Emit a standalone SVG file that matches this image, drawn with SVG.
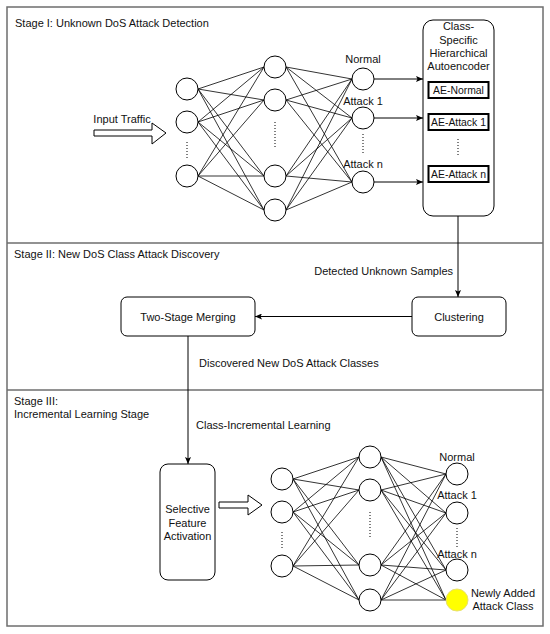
<svg xmlns="http://www.w3.org/2000/svg" width="550" height="634" viewBox="0 0 550 634">
<defs>
<marker id="arr" markerWidth="7" markerHeight="6" refX="7" refY="3" orient="auto" markerUnits="userSpaceOnUse">
<path d="M0,0 L7,3 L0,6 L1.5,3 z" fill="#000"/>
</marker>
<style>
text{font-family:"Liberation Sans",Arial,sans-serif;font-size:11px;fill:#111}
.c{text-anchor:middle}
.s{font-size:10.4px}
.n{fill:#fff;stroke:#000;stroke-width:1}
.e{stroke:#000;stroke-width:0.8;fill:none}
.frame{fill:none;stroke:#6e6e6e;stroke-width:1.5}
.box{fill:#fff;stroke:#000;stroke-width:1}
.ae{fill:#fff;stroke:#000;stroke-width:2}
.dot{stroke:#000;stroke-width:1;stroke-dasharray:1 2;fill:none}
.flow{stroke:#000;stroke-width:1;fill:none;marker-end:url(#arr)}
.big{fill:#fff;stroke:#000;stroke-width:1}
</style>
</defs>
<rect width="550" height="634" fill="#fff"/>
<g id="frame">
<rect class="frame" x="7" y="7" width="536" height="619"/>
<line class="frame" x1="7" y1="243" x2="543" y2="243"/>
<line class="frame" x1="7" y1="390" x2="543" y2="390"/>
</g>
<g id="stage-labels">
<text x="15" y="27">Stage I: Unknown DoS Attack Detection</text>
<text x="14" y="258">Stage II: New DoS Class Attack Discovery</text>
<text x="14" y="405">Stage III:</text>
<text x="14" y="418">Incremental Learning Stage</text>
</g>
<g id="connectors">
<path class="e" d="M198,89L264,67M198,89L264,100M198,89L264,176M198,89L264,210
M198,122L264,67M198,122L264,100M198,122L264,176M198,122L264,210
M198,176L264,67M198,176L264,100M198,176L264,176M198,176L264,210"/>
<path class="e" d="M286,67L352,79M286,67L352,118M286,67L352,182
M286,100L352,79M286,100L352,118M286,100L352,182
M286,176L352,79M286,176L352,118M286,176L352,182
M286,210L352,79M286,210L352,118M286,210L352,182"/>
<path class="e" d="M293,479L359,457M293,479L359,490M293,479L359,565M293,479L359,600
M293,512L359,457M293,512L359,490M293,512L359,565M293,512L359,600
M293,566L359,457M293,566L359,490M293,566L359,565M293,566L359,600"/>
<path class="e" d="M381,457L446,474M381,457L446,513M381,457L446,570M381,457L446,600
M381,490L446,474M381,490L446,513M381,490L446,570M381,490L446,600
M381,565L446,474M381,565L446,513M381,565L446,570M381,565L446,600
M381,600L446,474M381,600L446,513M381,600L446,570M381,600L446,600"/>
<line class="flow" x1="374" y1="79" x2="423" y2="79"/>
<line class="flow" x1="374" y1="118" x2="423" y2="118"/>
<line class="flow" x1="374" y1="182" x2="423" y2="182"/>
<line class="flow" x1="458" y1="216" x2="458" y2="297"/>
<line class="flow" x1="412" y1="316.5" x2="255" y2="316.5"/>
<line class="flow" x1="188" y1="336" x2="188" y2="464"/>
<text x="453" y="275" text-anchor="end">Detected Unknown Samples</text>
<text x="199" y="367">Discovered New DoS Attack Classes</text>
<text x="196" y="429">Class-Incremental Learning</text>
</g>
<g id="input-traffic">
<path class="big" d="M94,130 L152,130 L152,123 L166,133 L152,144 L152,136 L94,136 z"/>
<text class="c" x="122" y="123">Input Traffic</text>
</g>
<g id="top-network">
<circle class="n" cx="187" cy="89" r="11"/>
<circle class="n" cx="187" cy="122" r="11"/>
<circle class="n" cx="187" cy="176" r="11"/>
<line class="dot" x1="187" y1="142" x2="187" y2="160"/>
<circle class="n" cx="275" cy="67" r="11"/>
<circle class="n" cx="275" cy="100" r="11"/>
<circle class="n" cx="275" cy="176" r="11"/>
<circle class="n" cx="275" cy="210" r="11"/>
<line class="dot" x1="275" y1="122" x2="275" y2="148"/>
<circle class="n" cx="363" cy="79" r="11"/>
<circle class="n" cx="363" cy="118" r="11"/>
<circle class="n" cx="363" cy="182" r="11"/>
<line class="dot" x1="363" y1="134" x2="363" y2="154"/>
<text class="c" x="363" y="63">Normal</text>
<text class="c" x="363" y="105">Attack 1</text>
<text class="c" x="363" y="168">Attack n</text>
</g>
<g id="autoencoder">
<rect class="box" x="423" y="20" width="71" height="196" rx="10"/>
<text class="c" x="458.5" y="30">Class-</text>
<text class="c" x="458.5" y="44">Specific</text>
<text class="c" x="458.5" y="57">Hierarchical</text>
<text class="c" x="458.5" y="70">Autoencoder</text>
<rect class="ae" x="428.5" y="82" width="60" height="16"/>
<text class="c s" x="458.5" y="94">AE-Normal</text>
<rect class="ae" x="428.5" y="114" width="60" height="16"/>
<text class="c s" x="458.5" y="126">AE-Attack 1</text>
<line class="dot" x1="458" y1="139" x2="458" y2="157"/>
<rect class="ae" x="428.5" y="166" width="60" height="16"/>
<text class="c s" x="458.5" y="178">AE-Attack n</text>
</g>
<g id="clustering">
<rect class="box" x="412" y="297" width="94" height="39" rx="6"/>
<text class="c" x="459" y="320.5">Clustering</text>
</g>
<g id="two-stage-merging">
<rect class="box" x="121" y="297" width="134" height="39" rx="6"/>
<text class="c" x="188" y="320.5">Two-Stage Merging</text>
</g>
<g id="selective-feature-activation">
<rect class="box" x="160" y="464" width="55" height="116" rx="8"/>
<text class="c" x="187.5" y="513">Selective</text>
<text class="c" x="187.5" y="527">Feature</text>
<text class="c" x="187.5" y="540">Activation</text>
</g>
<g id="feature-arrow">
<path class="big" d="M219,502 L248,502 L248,495 L262,505 L248,515 L248,508 L219,508 z"/>
</g>
<g id="bottom-network">
<circle class="n" cx="282" cy="479" r="11"/>
<circle class="n" cx="282" cy="512" r="11"/>
<circle class="n" cx="282" cy="566" r="11"/>
<line class="dot" x1="282" y1="532" x2="282" y2="550"/>
<circle class="n" cx="370" cy="457" r="11"/>
<circle class="n" cx="370" cy="490" r="11"/>
<circle class="n" cx="370" cy="565" r="11"/>
<circle class="n" cx="370" cy="600" r="11"/>
<line class="dot" x1="370" y1="512" x2="370" y2="538"/>
<circle class="n" cx="457" cy="474" r="11"/>
<circle class="n" cx="457" cy="513" r="11"/>
<circle class="n" cx="457" cy="570" r="11"/>
<line class="dot" x1="457" y1="528" x2="457" y2="548"/>
<circle cx="457" cy="600" r="11" fill="#ffff00" stroke="#e8e070" stroke-width="1"/>
<text class="c" x="457" y="461">Normal</text>
<text class="c" x="457" y="499">Attack 1</text>
<text class="c" x="457" y="558">Attack n</text>
<text class="c" x="503" y="597">Newly Added</text>
<text class="c" x="503" y="610">Attack Class</text>
</g>
</svg>
